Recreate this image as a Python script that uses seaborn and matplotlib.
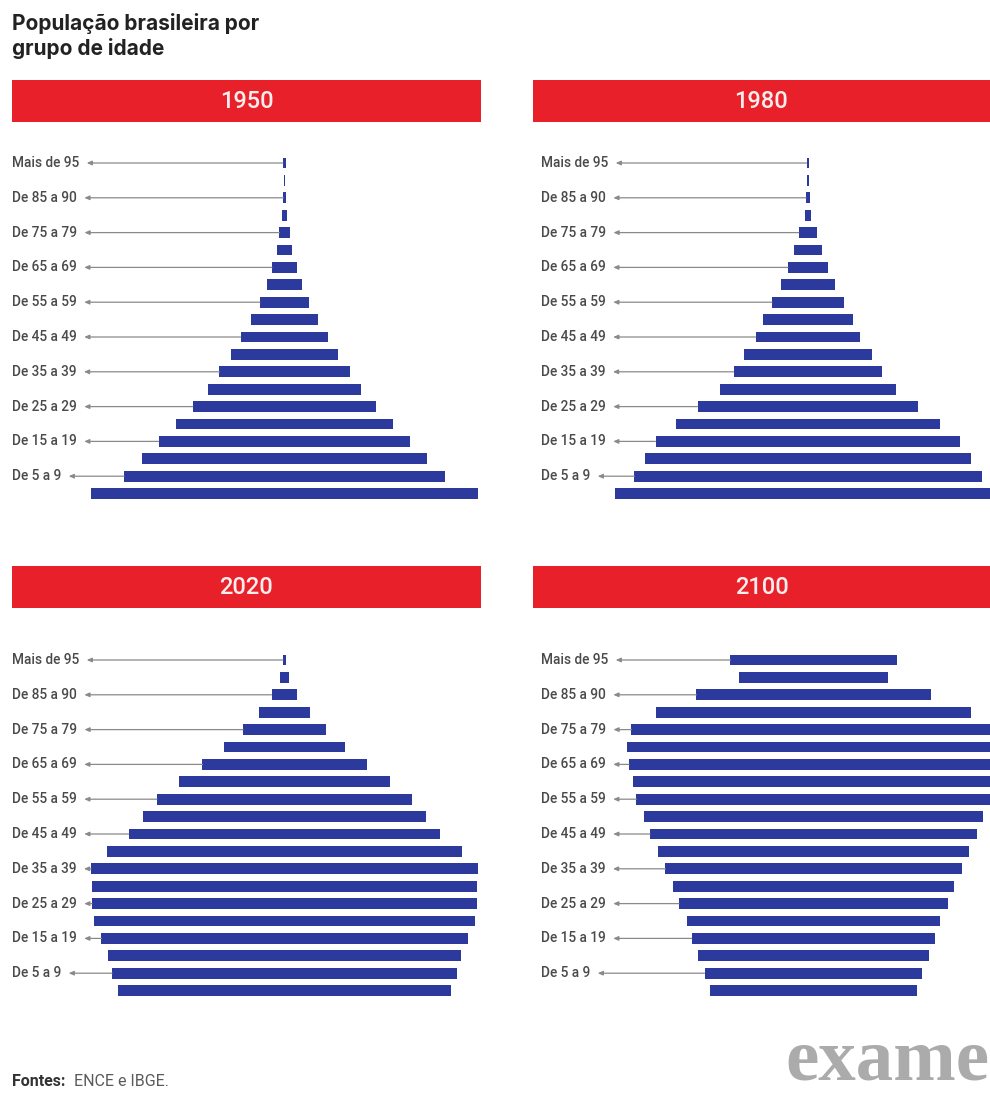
import numpy as np
import pandas as pd
import matplotlib
matplotlib.use("Agg")
import matplotlib.pyplot as plt
import seaborn as sns

# grupos de idade, de cima para baixo
age_groups = ["Mais de 95", "De 90 a 94", "De 85 a 90", "De 80 a 84", "De 75 a 79",
              "De 70 a 74", "De 65 a 69", "De 60 a 64", "De 55 a 59", "De 50 a 54",
              "De 45 a 49", "De 40 a 44", "De 35 a 39", "De 30 a 34", "De 25 a 29",
              "De 20 a 24", "De 15 a 19", "De 10 a 14", "De 5 a 9", "De 0 a 4"]
shown_labels = age_groups[::2]

years = ["1950", "1980", "2020", "2100"]

# tamanho de cada grupo (maior grupo do painel ~ 100)
pop_1950 = [0.8, 0.5, 0.6, 1.3, 2.6, 4.1, 6.5, 9.3, 12.7, 17.1,
            22.7, 27.9, 33.6, 39.3, 47.5, 56.3, 65.1, 73.4, 82.9, 100.0]
pop_1980 = [0.7, 0.6, 1.1, 1.7, 4.8, 7.2, 10.3, 13.7, 18.6, 23.3,
            27.1, 33.1, 38.5, 45.7, 57.1, 68.2, 78.8, 84.2, 89.7, 99.5]
pop_2020 = [0.8, 2.4, 6.7, 13.4, 21.4, 31.3, 42.4, 54.5, 65.9, 72.9,
            80.6, 91.7, 100.0, 99.5, 99.5, 98.7, 94.6, 91.0, 89.1, 86.0]
pop_2100 = [42.9, 38.5, 60.5, 81.4, 94.1, 96.6, 95.3, 93.3, 91.5, 87.6,
            84.5, 80.4, 76.5, 72.4, 69.5, 65.4, 63.0, 59.7, 56.3, 53.5]
series = [pop_1950, pop_1980, pop_2020, pop_2100]

sns.set_theme(style="white")
plt.rcParams["font.family"] = ["Roboto", "DejaVu Sans"]

W, H = 990, 1096
BLUE = "#2c3a9e"
RED = "#e8202a"
PX_PER_UNIT = 3.87
ROW = 17.4

fig = plt.figure(figsize=(W / 100, H / 100), dpi=100)
fig.patch.set_facecolor("white")

# (esquerda do painel, topo da primeira barra, centro das barras, x do rótulo, caixa do título)
layout = [
    (0, 163, 284.5, 12, (12, 80, 481, 122)),
    (495, 163, 808, 541, (533, 80, 990, 122)),
    (0, 660, 284.5, 12, (12, 566, 481, 608)),
    (495, 660, 813.5, 541, (533, 566, 990, 608)),
]

for year, values, (left, top, center, lab_x, hdr) in zip(years, series, layout):
    # faixa vermelha com o ano
    x0, y0, x1, y1 = hdr
    hax = fig.add_axes([x0 / W, 1 - y1 / H, (x1 - x0) / W, (y1 - y0) / H])
    hax.set_facecolor(RED)
    hax.set_xticks([])
    hax.set_yticks([])
    for s in hax.spines.values():
        s.set_visible(False)
    hax.text(0.5, 0.5, year, ha="center", va="center", color="#fdeeee",
             fontsize=17, fontweight="medium", transform=hax.transAxes)

    # pirâmide
    width_px = 495
    ax_top = top - ROW / 2
    ax_h = ROW * len(age_groups)
    ax = fig.add_axes([left / W, 1 - (ax_top + ax_h) / H, width_px / W, ax_h / H])
    df = pd.DataFrame({"grupo": age_groups, "metade": np.array(values) / 2})
    for sign in (1, -1):
        sns.barplot(x=sign * df["metade"], y=df["grupo"], orient="h", color=BLUE,
                    saturation=1, width=0.62, linewidth=0, ax=ax)
    ax.set_xlim(-(center - left) / PX_PER_UNIT, (left + width_px - center) / PX_PER_UNIT)
    ax.set_ylim(len(age_groups) - 0.5, -0.5)
    ax.set_axis_off()

    for i, grp in enumerate(age_groups):
        if grp not in shown_labels:
            continue
        ax.annotate(grp, xy=(-values[i] / 2, i),
                    xytext=((lab_x - left) / width_px, i),
                    textcoords=("axes fraction", "data"),
                    ha="left", va="center", fontsize=9.8, fontweight="medium",
                    color="#4a4a4a",
                    arrowprops=dict(arrowstyle="<|-,head_length=0.3,head_width=0.13",
                                    color="#8a8a8a", lw=0.9, shrinkA=3, shrinkB=0))

fig.text(12 / W, 1 - 13 / H, "População brasileira por\ngrupo de idade", ha="left", va="top",
         fontsize=15, fontweight="bold", color="#222222", linespacing=1.25,
         family=["Inter", "DejaVu Sans"])

fig.text(12 / W, 1 - 1082 / H, "Fontes:", ha="left", va="center", fontsize=11.5,
         fontweight="bold", color="#333333")
fig.text(74 / W, 1 - 1082 / H, "ENCE e IBGE.", ha="left", va="center", fontsize=11.5,
         color="#5a5a5a")
fig.text(989 / W, 1 - 1095 / H, "exame", ha="right", va="bottom", fontsize=54,
         fontweight="bold", color="#ababab", family=["Liberation Serif", "DejaVu Serif"])

fig.savefig("out.png", dpi=100, facecolor="white")
